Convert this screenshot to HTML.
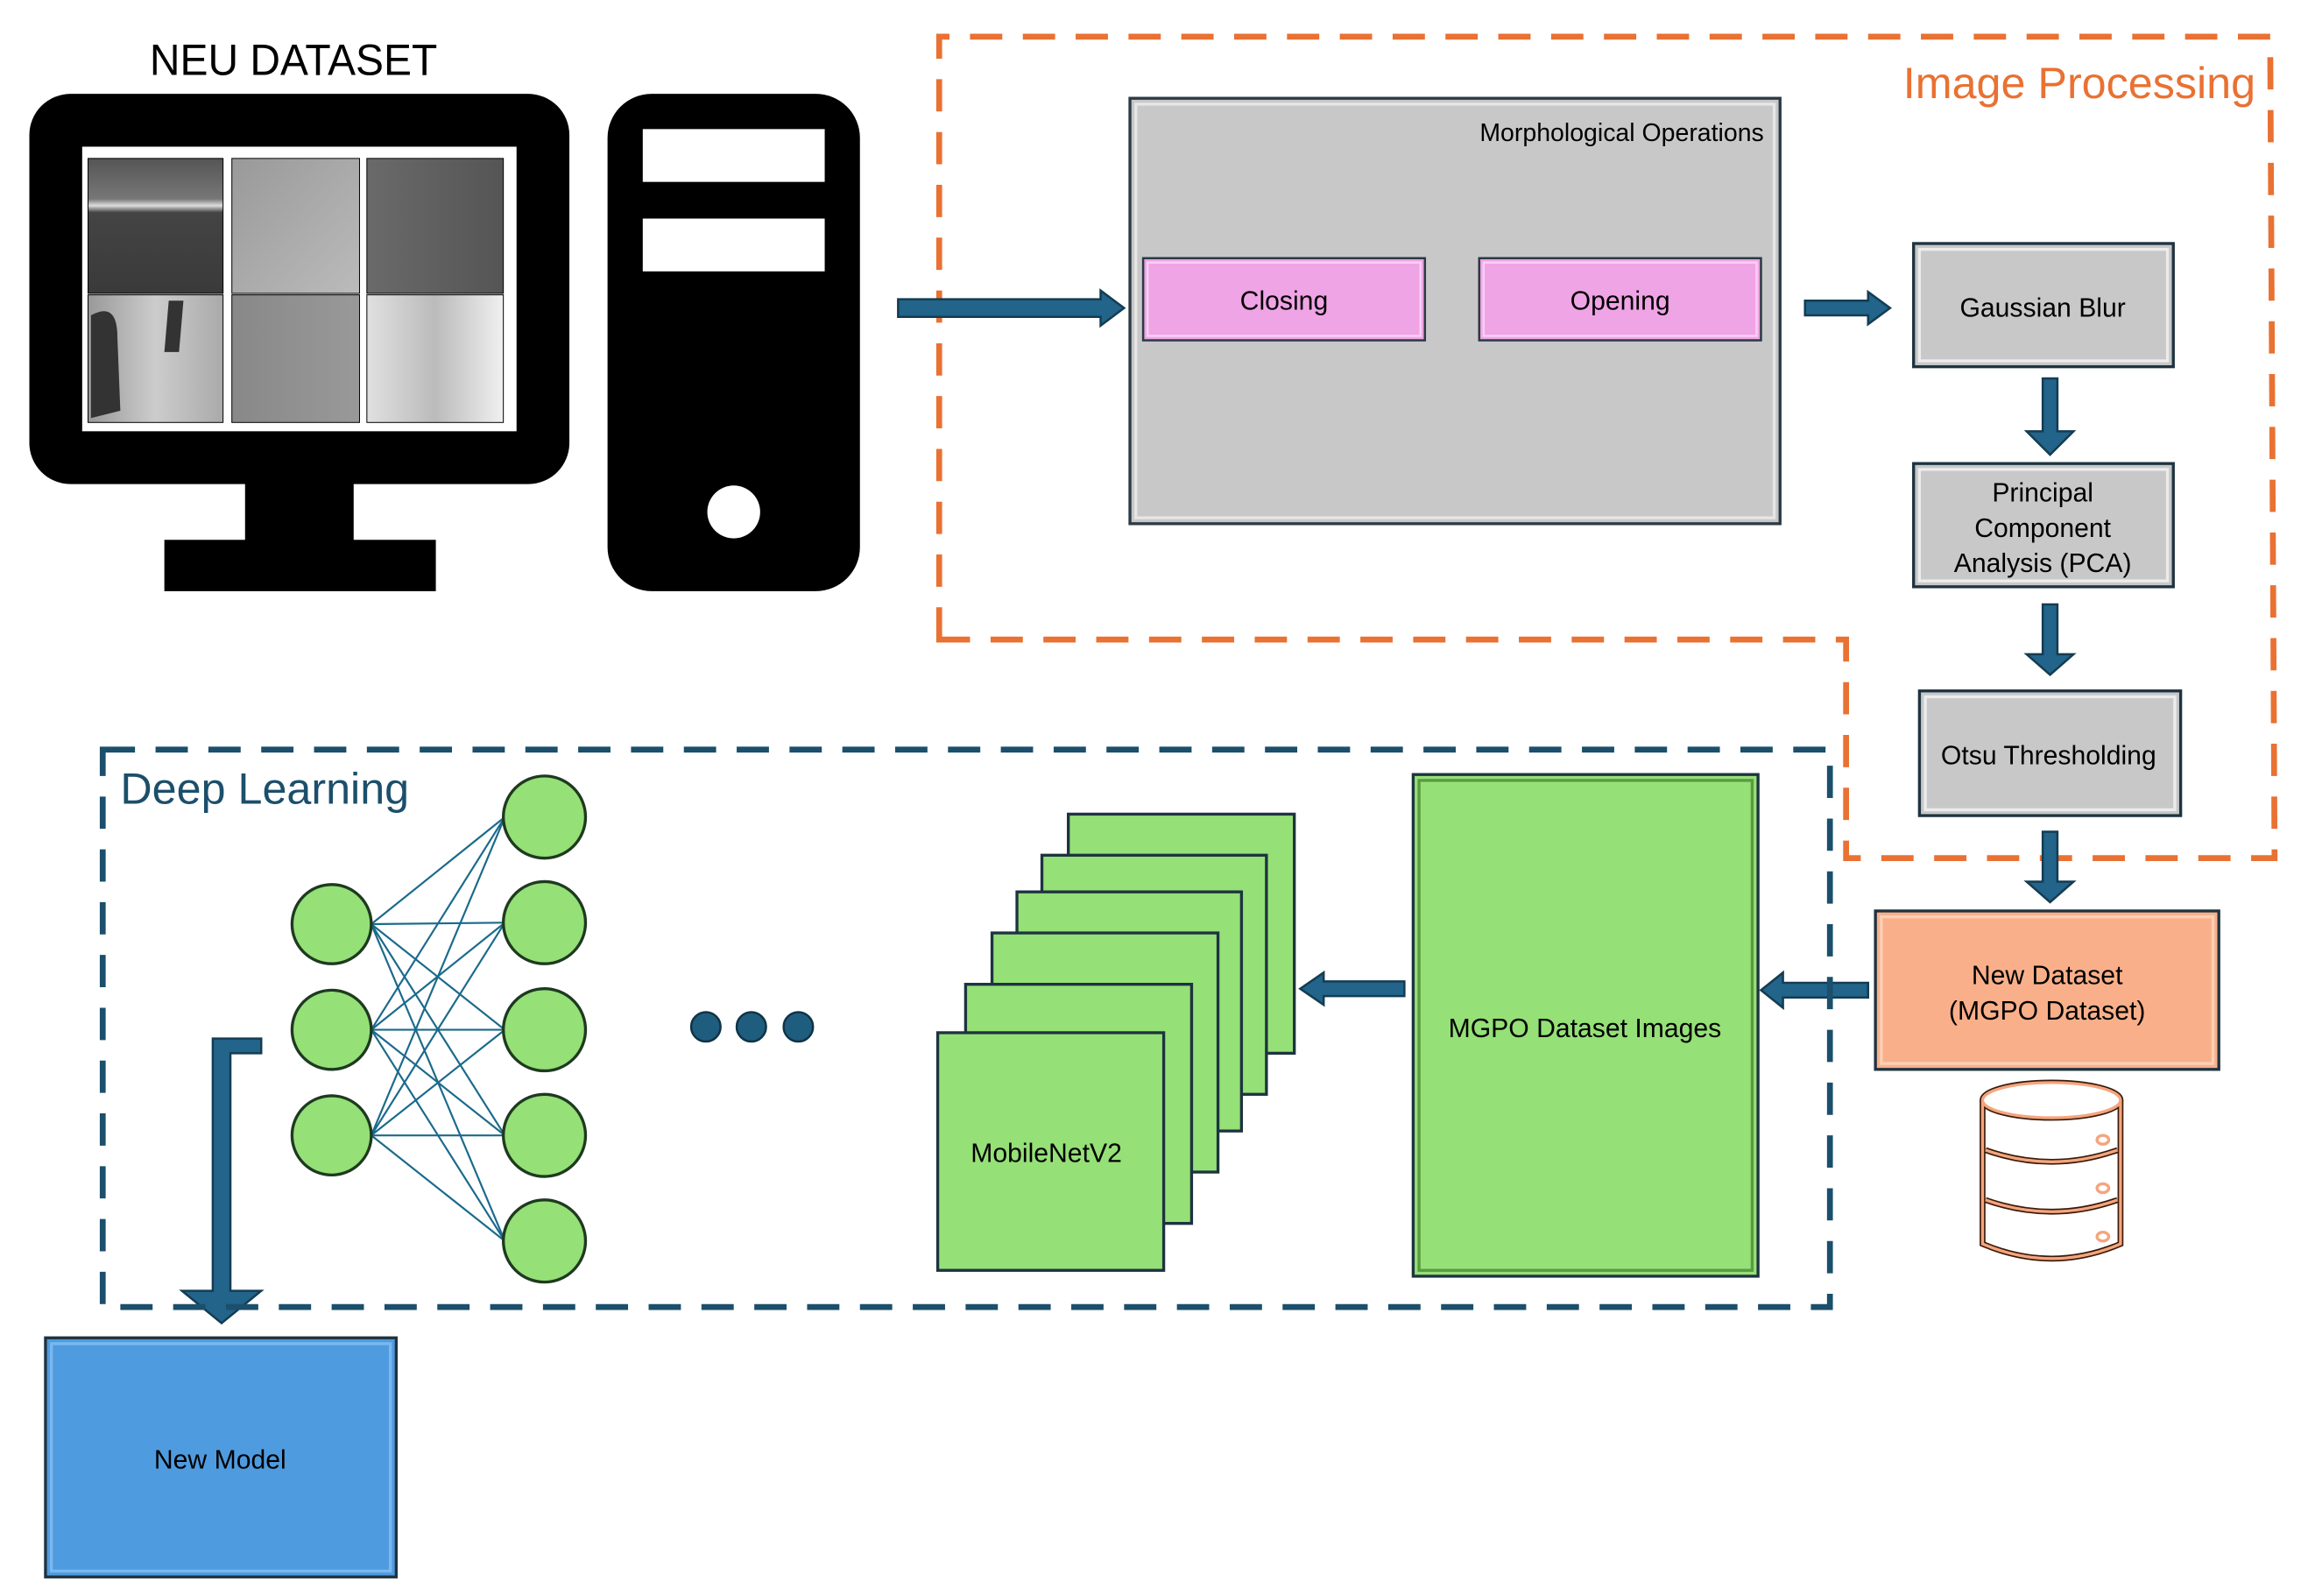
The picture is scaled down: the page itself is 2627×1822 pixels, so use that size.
<!DOCTYPE html>
<html><head><meta charset="utf-8"><style>
html,body{margin:0;padding:0;background:#fff;}
svg{display:block;}
text{font-family:"Liberation Sans","DejaVu Sans",sans-serif;}
</style></head><body>
<svg width="2627" height="1822" viewBox="0 0 1568 1088" preserveAspectRatio="none" xmlns="http://www.w3.org/2000/svg">
<defs>
<linearGradient id="g1" x1="0" y1="0" x2="0" y2="1"><stop offset="0" stop-color="#555"/><stop offset="0.3" stop-color="#777"/><stop offset="0.35" stop-color="#ddd"/><stop offset="0.4" stop-color="#444"/><stop offset="1" stop-color="#3a3a3a"/></linearGradient>
<linearGradient id="g2" x1="0" y1="0" x2="1" y2="1"><stop offset="0" stop-color="#999"/><stop offset="1" stop-color="#bbb"/></linearGradient>
<linearGradient id="g3" x1="0" y1="0" x2="1" y2="0"><stop offset="0" stop-color="#6a6a6a"/><stop offset="1" stop-color="#555"/></linearGradient>
<linearGradient id="g4" x1="0" y1="0" x2="1" y2="0"><stop offset="0" stop-color="#999"/><stop offset="0.5" stop-color="#ccc"/><stop offset="1" stop-color="#aaa"/></linearGradient>
<linearGradient id="g5" x1="0" y1="0" x2="1" y2="0"><stop offset="0" stop-color="#888"/><stop offset="1" stop-color="#999"/></linearGradient>
<linearGradient id="g6" x1="0" y1="0" x2="1" y2="0"><stop offset="0" stop-color="#e0e0e0"/><stop offset="0.5" stop-color="#bbb"/><stop offset="1" stop-color="#f0f0f0"/></linearGradient>
</defs>

<text x="200" y="51" font-size="30" text-anchor="middle" fill="#000" textLength="196" lengthAdjust="spacingAndGlyphs">NEU DATASET</text>

<rect x="20" y="64" width="368" height="266" rx="28" fill="#000"/>
<rect x="167" y="328" width="74" height="42" fill="#000"/>
<rect x="112" y="368" width="185" height="35" fill="#000"/>
<rect x="56" y="100" width="296" height="194" fill="#fff"/>
<rect x="60" y="108" width="92" height="92" fill="url(#g1)" stroke="#000" stroke-width="0.6"/>
<rect x="158" y="108" width="87" height="92" fill="url(#g2)" stroke="#000" stroke-width="0.6"/>
<rect x="250" y="108" width="93" height="92" fill="url(#g3)" stroke="#000" stroke-width="0.6"/>
<rect x="60" y="201" width="92" height="87" fill="url(#g4)" stroke="#000" stroke-width="0.6"/>
<path d="M62 215 Q80 205 80 230 L82 280 L62 285 Z" fill="#333"/>
<path d="M115 205 L125 205 L122 240 L112 240 Z" fill="#333"/>
<rect x="158" y="201" width="87" height="87" fill="url(#g5)" stroke="#000" stroke-width="0.6"/>
<rect x="250" y="201" width="93" height="87" fill="url(#g6)" stroke="#000" stroke-width="0.6"/>

<rect x="414" y="64" width="172" height="339" rx="30" fill="#000"/>
<rect x="438" y="88" width="124" height="36" fill="#fff"/>
<rect x="438" y="149" width="124" height="36" fill="#fff"/>
<ellipse cx="500" cy="349" rx="18" ry="18" fill="#fff"/>

<path d="M640 436 L640 25 L1547 25 L1550 585 L1258 585 L1258 436 Z" fill="none" stroke="#E97132" stroke-width="4" stroke-dasharray="22 14"/>
<text x="1537" y="67" font-size="30" text-anchor="end" fill="#E97132">Image Processing</text>

<g fill="#22648A" stroke="#143C52" stroke-width="1.5">
<polygon points="612,204 750,204 750,198 766,210 750,222 750,216 612,216"/>
<polygon points="976,205 992,205 992,200 1003,210 992,220 992,215 976,215"/>
<polygon points="1230,205 1273,205 1273,199 1288,210 1273,221 1273,215 1230,215"/>
<polygon points="1392,258 1402,258 1402,294 1413,294 1397,310 1381,294 1392,294"/>
<polygon points="1392,412 1402,412 1402,446 1413,446 1397,460 1381,446 1392,446"/>
<polygon points="1392,567 1402,567 1402,601 1413,601 1397,615 1381,601 1392,601"/>
<polygon points="1273,670 1215,670 1215,663 1200,675 1215,687 1215,680 1273,680"/>
<polygon points="957,669 902,669 902,663 886,674 902,685 902,679 957,679"/>
<polygon points="178,708 178,718 157,718 157,880 178,880 151,902 124,880 145,880 145,708"/>
</g>

<rect x="770" y="67" width="443" height="290" fill="#C8C8C8" stroke="#2b3a44" stroke-width="2"/>
<rect x="774" y="71" width="435" height="282" fill="none" stroke="#e6e6e6" stroke-width="2"/>
<text x="1202" y="96" font-size="17" text-anchor="end" fill="#000">Morphological Operations</text>
<rect x="779" y="176" width="192" height="56" fill="#EFA4E5" stroke="#2b3a44" stroke-width="1.5"/>
<rect x="782" y="179" width="186" height="50" fill="none" stroke="#f8d0f2" stroke-width="1.5"/>
<text x="875" y="211" font-size="18" text-anchor="middle">Closing</text>
<rect x="1008" y="176" width="192" height="56" fill="#EFA4E5" stroke="#2b3a44" stroke-width="1.5"/>
<rect x="1011" y="179" width="186" height="50" fill="none" stroke="#f8d0f2" stroke-width="1.5"/>
<text x="1104" y="211" font-size="18" text-anchor="middle">Opening</text>

<g stroke="#1e3340" stroke-width="2" fill="#C8C8C8">
<rect x="1304" y="166" width="177" height="84"/>
<rect x="1304" y="316" width="177" height="84"/>
<rect x="1308" y="471" width="178" height="85"/>
</g>
<g fill="none" stroke="#ececec" stroke-width="2">
<rect x="1308" y="170" width="169" height="76"/>
<rect x="1308" y="320" width="169" height="76"/>
<rect x="1312" y="475" width="170" height="77"/>
</g>
<text x="1392" y="216" font-size="18" text-anchor="middle">Gaussian Blur</text>
<text x="1392" y="342" font-size="18" text-anchor="middle">Principal</text>
<text x="1392" y="366" font-size="18" text-anchor="middle">Component</text>
<text x="1392" y="390" font-size="18" text-anchor="middle">Analysis (PCA)</text>
<text x="1396" y="521" font-size="18" text-anchor="middle">Otsu Thresholding</text>

<rect x="1278" y="621" width="234" height="108" fill="#F9B08A" stroke="#1e3340" stroke-width="2"/>
<rect x="1282" y="625" width="226" height="100" fill="none" stroke="#fbd0b5" stroke-width="2"/>
<text x="1395" y="671" font-size="18" text-anchor="middle">New Dataset</text>
<text x="1395" y="695" font-size="18" text-anchor="middle">(MGPO Dataset)</text>

<g fill="#fff" stroke="#3a1a0a" stroke-width="4">
<path d="M1351 750 L1351 848 Q1398 868 1445 848 L1445 750"/>
<ellipse cx="1398" cy="750" rx="47" ry="12"/>
<path d="M1353 784 Q1398 800 1443 784 M1353 818 Q1398 834 1443 818" fill="none"/>
</g>
<g fill="#fff" stroke="#F4A57E" stroke-width="2">
<path d="M1351 750 L1351 848 Q1398 868 1445 848 L1445 750" fill="none"/>
<ellipse cx="1398" cy="750" rx="47" ry="12"/>
<path d="M1353 784 Q1398 800 1443 784 M1353 818 Q1398 834 1443 818" fill="none"/>
<ellipse cx="1433" cy="777" rx="4" ry="3"/>
<ellipse cx="1433" cy="810" rx="4" ry="3"/>
<ellipse cx="1433" cy="843" rx="4" ry="3"/>
</g>

<rect x="70" y="511" width="1177" height="380" fill="none" stroke="#1B4F6B" stroke-width="4" stroke-dasharray="22 14"/>
<text x="82" y="548" font-size="30" fill="#1B4F6B">Deep Learning</text>

<rect x="963" y="528" width="235" height="342" fill="#95E077" stroke="#1e3340" stroke-width="2"/>
<rect x="967" y="532" width="227" height="334" fill="none" stroke="#5a9a40" stroke-width="2"/>
<text x="1080" y="707" font-size="18" text-anchor="middle">MGPO Dataset Images</text>

<g fill="#95E077" stroke="#1e3340" stroke-width="2">
<rect x="728" y="555" width="154" height="163"/>
<rect x="710" y="583" width="153" height="163"/>
<rect x="693" y="608" width="153" height="163"/>
<rect x="676" y="636" width="154" height="163"/>
<rect x="658" y="671" width="154" height="163"/>
<rect x="639" y="704" width="154" height="162"/>
</g>
<text x="713" y="792" font-size="18" text-anchor="middle">MobileNetV2</text>

<g fill="#1F5D7E" stroke="#0f3347" stroke-width="1.5">
<circle cx="481" cy="700" r="10"/><circle cx="512" cy="700" r="10"/><circle cx="544" cy="700" r="10"/>
</g>

<g stroke="#1B6A8C" stroke-width="1.3">
<line x1="253" y1="630" x2="344" y2="557"/><line x1="253" y1="630" x2="344" y2="629"/><line x1="253" y1="630" x2="344" y2="702"/><line x1="253" y1="630" x2="344" y2="774"/><line x1="253" y1="630" x2="344" y2="846"/>
<line x1="253" y1="702" x2="344" y2="557"/><line x1="253" y1="702" x2="344" y2="629"/><line x1="253" y1="702" x2="344" y2="702"/><line x1="253" y1="702" x2="344" y2="774"/><line x1="253" y1="702" x2="344" y2="846"/>
<line x1="253" y1="774" x2="344" y2="557"/><line x1="253" y1="774" x2="344" y2="629"/><line x1="253" y1="774" x2="344" y2="702"/><line x1="253" y1="774" x2="344" y2="774"/><line x1="253" y1="774" x2="344" y2="846"/>
</g>
<g fill="#95E077" stroke="#1e3a20" stroke-width="2">
<circle cx="226" cy="630" r="27"/><circle cx="226" cy="702" r="27"/><circle cx="226" cy="774" r="27"/>
<circle cx="371" cy="557" r="28"/><circle cx="371" cy="629" r="28"/><circle cx="371" cy="702" r="28"/><circle cx="371" cy="774" r="28"/><circle cx="371" cy="846" r="28"/>
</g>

<rect x="31" y="912" width="239" height="163" fill="#4F9BDF" stroke="#1e3340" stroke-width="2"/>
<rect x="35" y="916" width="231" height="155" fill="none" stroke="#7ab8ee" stroke-width="2"/>
<text x="150" y="1001" font-size="18" text-anchor="middle">New Model</text>
</svg>
</body></html>
